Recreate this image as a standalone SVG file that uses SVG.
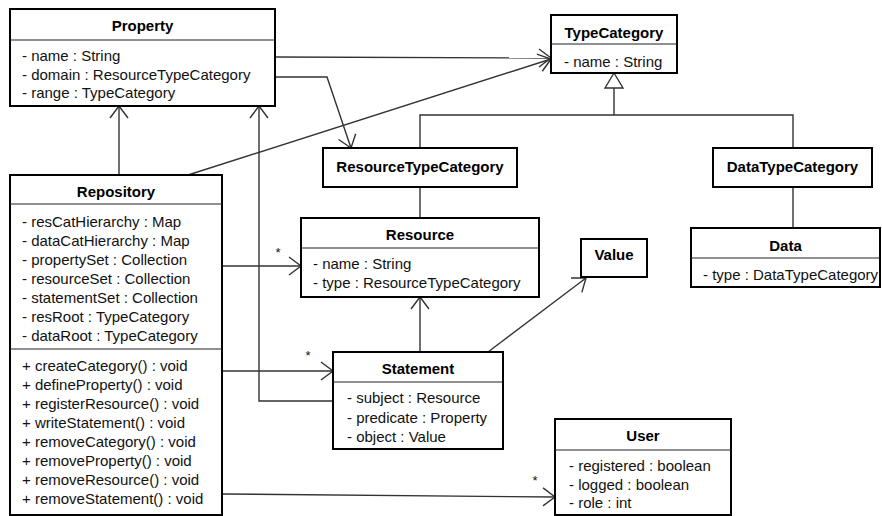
<svg xmlns="http://www.w3.org/2000/svg" width="882" height="516" viewBox="0 0 882 516">
<defs>
<style>
.box{fill:#fff;stroke:#000;stroke-width:2}
.sep{stroke:#222;stroke-width:1.2}
.t{font-family:"Liberation Sans",Arial,sans-serif;font-size:15px;fill:#111}
.h{font-family:"Liberation Sans",Arial,sans-serif;font-size:15px;font-weight:bold;fill:#000;text-anchor:middle}
.c{fill:none;stroke:#333;stroke-width:1.4}
.m{font-family:"Liberation Sans",Arial,sans-serif;font-size:13px;fill:#111;text-anchor:middle}
</style>
<marker id="arr" markerUnits="userSpaceOnUse" markerWidth="16" markerHeight="22" viewBox="-14 -11 16 22" refX="0" refY="0" orient="auto">
<path d="M-12,-9 L0,0 L-12,9" fill="none" stroke="#333" stroke-width="1.4"/>
</marker>
</defs>
<rect width="882" height="516" fill="#fff"/>

<g id="connectors">
<path class="c" d="M275,57 L551,58" marker-end="url(#arr)"/>
<path class="c" d="M275,77 L327,77 L351,148" marker-end="url(#arr)"/>
<path class="c" d="M188,175 L551,59" marker-end="url(#arr)"/>
<path class="c" d="M119,175 L119,106" marker-end="url(#arr)"/>
<path class="c" d="M333,401 L259,401 L259,106" marker-end="url(#arr)"/>
<path class="c" d="M222,266 L301,266" marker-end="url(#arr)"/>
<path class="c" d="M222,371 L333,371" marker-end="url(#arr)"/>
<path class="c" d="M222,494 L555,497" marker-end="url(#arr)"/>
<path class="c" d="M420,352 L420,297" marker-end="url(#arr)"/>
<path class="c" d="M488,352 L586,278" marker-end="url(#arr)"/>
<path class="c" d="M420,148 L420,115 L793,115 L793,148"/>
<path class="c" d="M614,115 L614,88"/>
<path d="M614,73 L623,88 L605,88 Z" fill="#fff" stroke="#333" stroke-width="1.4"/>
<path class="c" d="M420,187 L420,218"/>
<path class="c" d="M793,187 L793,228"/>
<text class="m" x="278" y="257">*</text>
<text class="m" x="308" y="360">*</text>
<text class="m" x="535" y="485">*</text>
</g>

<g id="Property">
<rect class="box" x="10" y="9" width="265" height="97"/>
<line class="sep" x1="10" y1="40" x2="275" y2="40"/>
<text class="h" x="142.5" y="31">Property</text>
<text class="t" x="22" y="61">- name : String</text>
<text class="t" x="22" y="80">- domain : ResourceTypeCategory</text>
<text class="t" x="22" y="98">- range : TypeCategory</text>
</g>

<g id="TypeCategory">
<rect class="box" x="551" y="15" width="126" height="58"/>
<line class="sep" x1="551" y1="44" x2="677" y2="44"/>
<text class="h" x="614" y="38">TypeCategory</text>
<text class="t" x="564" y="67">- name : String</text>
</g>

<g id="ResourceTypeCategory">
<rect class="box" x="323" y="148" width="194" height="39"/>
<text class="h" x="420" y="172">ResourceTypeCategory</text>
</g>

<g id="DataTypeCategory">
<rect class="box" x="713" y="148" width="159" height="39"/>
<text class="h" x="792.5" y="172">DataTypeCategory</text>
</g>

<g id="Repository">
<rect class="box" x="10" y="175" width="212" height="340"/>
<line class="sep" x1="10" y1="204" x2="222" y2="204"/>
<line class="sep" x1="10" y1="349" x2="222" y2="349"/>
<text class="h" x="116" y="197">Repository</text>
<text class="t" x="22" y="227">- resCatHierarchy : Map</text>
<text class="t" x="22" y="246">- dataCatHierarchy : Map</text>
<text class="t" x="22" y="265">- propertySet : Collection</text>
<text class="t" x="22" y="284">- resourceSet : Collection</text>
<text class="t" x="22" y="303">- statementSet : Collection</text>
<text class="t" x="22" y="322">- resRoot : TypeCategory</text>
<text class="t" x="22" y="341">- dataRoot : TypeCategory</text>
<text class="t" x="22" y="371">+ createCategory() : void</text>
<text class="t" x="22" y="390">+ defineProperty() : void</text>
<text class="t" x="22" y="409">+ registerResource() : void</text>
<text class="t" x="22" y="428">+ writeStatement() : void</text>
<text class="t" x="22" y="447">+ removeCategory() : void</text>
<text class="t" x="22" y="466">+ removeProperty() : void</text>
<text class="t" x="22" y="485">+ removeResource() : void</text>
<text class="t" x="22" y="504">+ removeStatement() : void</text>
</g>

<g id="Resource">
<rect class="box" x="301" y="218" width="238" height="79"/>
<line class="sep" x1="301" y1="248" x2="539" y2="248"/>
<text class="h" x="420" y="240">Resource</text>
<text class="t" x="313" y="269">- name : String</text>
<text class="t" x="313" y="288">- type : ResourceTypeCategory</text>
</g>

<g id="Value">
<rect class="box" x="581" y="239" width="66" height="38"/>
<text class="h" x="614" y="260">Value</text>
</g>

<g id="Data">
<rect class="box" x="691" y="228" width="189" height="59"/>
<line class="sep" x1="691" y1="258" x2="880" y2="258"/>
<text class="h" x="785.5" y="251">Data</text>
<text class="t" x="703" y="280">- type : DataTypeCategory</text>
</g>

<g id="Statement">
<rect class="box" x="333" y="352" width="170" height="97"/>
<line class="sep" x1="333" y1="382" x2="503" y2="382"/>
<text class="h" x="418" y="374">Statement</text>
<text class="t" x="347" y="403">- subject : Resource</text>
<text class="t" x="347" y="423">- predicate : Property</text>
<text class="t" x="347" y="442">- object : Value</text>
</g>

<g id="User">
<rect class="box" x="555" y="419" width="176" height="96"/>
<line class="sep" x1="555" y1="450" x2="731" y2="450"/>
<text class="h" x="643" y="441">User</text>
<text class="t" x="569" y="471">- registered : boolean</text>
<text class="t" x="569" y="490">- logged : boolean</text>
<text class="t" x="569" y="508">- role : int</text>
</g>
</svg>
